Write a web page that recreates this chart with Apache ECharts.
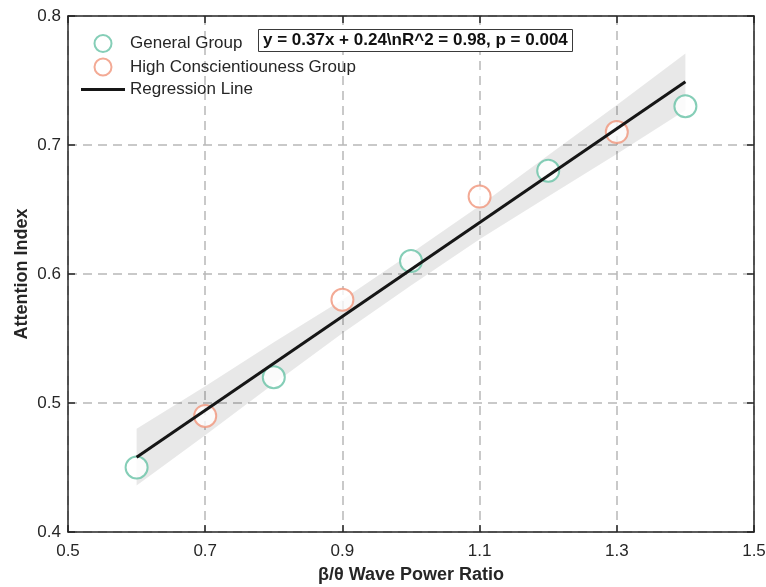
<!DOCTYPE html>
<html>
<head>
<meta charset="utf-8">
<script src="https://cdn.jsdelivr.net/npm/echarts@6/dist/echarts.min.js"></script>
<style>
  html, body { margin: 0; padding: 0; background: #fff; }
  #chart { width: 766px; height: 587px; }
</style>
</head>
<body>
<div id="chart"></div>
<script>
// data
const generalX = [0.6, 0.8, 1.0, 1.2, 1.4]
const generalY = [0.45, 0.52, 0.61, 0.68, 0.73]
const highX = [0.7, 0.9, 1.1, 1.3]
const highY = [0.49, 0.58, 0.66, 0.71]

// regression line and its confidence band
const fitX = [0.6, 1.4]
const fitY = [0.458, 0.749]
const bandX = [0.6, 0.7, 0.8, 0.9, 1.0, 1.1, 1.2, 1.3, 1.4]
const bandUpper = [0.480, 0.513, 0.547, 0.580, 0.616, 0.653, 0.692, 0.731, 0.771]
const bandLower = [0.436, 0.475, 0.515, 0.554, 0.591, 0.627, 0.660, 0.693, 0.727]

const xTicks = { min: 0.5, max: 1.5, interval: 0.2 }
const yTicks = { min: 0.4, max: 0.8, interval: 0.1 }

const eqText = 'y = 0.37x + 0.24\\nR^2 = 0.98, p = 0.004'

const font = 'Arial, "Liberation Sans", Helvetica, sans-serif'
const axisColor = '#262626'
const tealColor = '#66c2a5'
const salmonColor = '#f0957a'

const chart = echarts.init(document.getElementById('chart'))

const bandPoints = bandX.map((x, i) => [x, bandUpper[i]])
  .concat(bandX.slice().reverse().map((x, i) => [x, bandLower[bandX.length - 1 - i]]))

function baseAxis(extra) {
  return Object.assign({
    type: 'value',
    axisLine: { show: true, onZero: false, lineStyle: { color: axisColor, width: 1.5 } },
    axisTick: { show: true, inside: true, length: 7, lineStyle: { color: axisColor, width: 1.5 } },
    splitLine: { show: false },
    axisLabel: { show: false }
  }, extra)
}

const option = {
  animation: false,
  backgroundColor: '#fff',
  textStyle: { fontFamily: font },
  grid: { left: 68, right: 12, top: 16, bottom: 55, outerBoundsMode: 'none' },
  title: {
    text: eqText,
    left: 258,
    top: 29,
    padding: [3, 5, 3, 5],
    borderWidth: 1,
    borderColor: '#3a3a3a',
    backgroundColor: '#fff',
    textStyle: { fontFamily: font, fontSize: 17, fontWeight: 'bold', color: '#111' }
  },
  legend: {
    orient: 'vertical',
    left: 76,
    top: 29,
    itemWidth: 44,
    itemHeight: 17,
    itemGap: 4.5,
    textStyle: { fontFamily: font, fontSize: 17, color: '#262626' },
    data: [
      { name: 'General Group' },
      { name: 'High Conscientiouness Group' },
      { name: 'Regression Line', icon: 'path://M0,0 M0,7 L44,7 L44,10 L0,10 Z M44,17' }
    ]
  },
  xAxis: [
    baseAxis({
      position: 'bottom',
      min: xTicks.min, max: xTicks.max, interval: xTicks.interval,
      name: 'β/θ Wave Power Ratio',
      nameLocation: 'middle',
      nameGap: 34,
      nameMoveOverlap: false,
      nameTextStyle: { fontFamily: font, fontSize: 18, fontWeight: 'bold', color: axisColor },
      axisLabel: { show: true, margin: 11, fontFamily: font, fontSize: 17, color: axisColor },
      splitLine: { show: true, lineStyle: { color: '#b8b8b8', type: [9, 6], width: 1.5 } }
    }),
    baseAxis({ position: 'top', min: xTicks.min, max: xTicks.max, interval: xTicks.interval })
  ],
  yAxis: [
    baseAxis({
      position: 'left',
      min: yTicks.min, max: yTicks.max, interval: yTicks.interval,
      name: 'Attention Index',
      nameLocation: 'middle',
      nameGap: 37,
      nameMoveOverlap: false,
      nameTextStyle: { fontFamily: font, fontSize: 18, fontWeight: 'bold', color: axisColor },
      axisLabel: { show: true, margin: 7, fontFamily: font, fontSize: 17, color: axisColor },
      splitLine: { show: true, lineStyle: { color: '#b8b8b8', type: [9, 6], width: 1.5 } }
    }),
    baseAxis({ position: 'right', min: yTicks.min, max: yTicks.max, interval: yTicks.interval })
  ],
  series: [
    {
      name: 'band',
      type: 'custom',
      z: 1,
      silent: true,
      data: [0],
      renderItem: function (params, api) {
        return {
          type: 'polygon',
          shape: { points: bandPoints.map(p => api.coord(p)) },
          style: { fill: 'rgba(0, 0, 0, 0.09)' }
        }
      }
    },
    {
      name: 'General Group',
      type: 'scatter',
      z: 3,
      symbol: 'emptyCircle',
      symbolSize: 22,
      itemStyle: { color: tealColor, borderColor: tealColor, borderWidth: 1.2 },
      data: generalX.map((x, i) => [x, generalY[i]])
    },
    {
      name: 'High Conscientiouness Group',
      type: 'scatter',
      z: 3,
      symbol: 'emptyCircle',
      symbolSize: 22,
      itemStyle: { color: salmonColor, borderColor: salmonColor, borderWidth: 1.2 },
      data: highX.map((x, i) => [x, highY[i]])
    },
    {
      name: 'Regression Line',
      type: 'line',
      z: 4,
      showSymbol: false,
      symbol: 'none',
      lineStyle: { color: '#161616', width: 3 },
      itemStyle: { color: '#161616' },
      data: fitX.map((x, i) => [x, fitY[i]])
    }
  ]
}

chart.setOption(option)
</script>
</body>
</html>
